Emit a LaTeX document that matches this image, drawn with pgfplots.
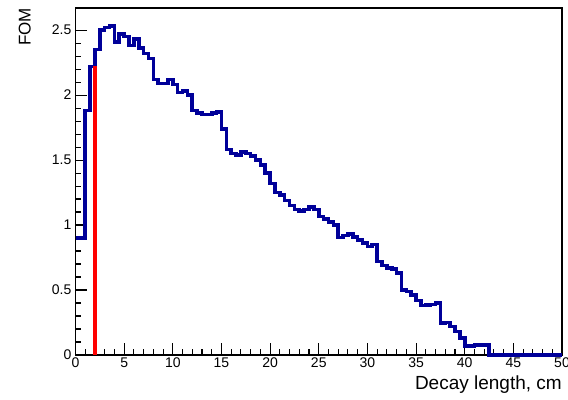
\documentclass[border=0pt]{standalone}
\usepackage{fontspec}
\setmainfont{Liberation Sans}
\usepackage{pgfplots}
\usepackage{pgfplotstable}
\pgfplotsset{compat=1.18}
\definecolor{rootblue}{RGB}{0,0,153}
\pgfplotstableread{
x y
0.0 0.90
0.5 0.90
1.0 1.88
1.5 2.22
2.0 2.35
2.5 2.50
3.0 2.52
3.5 2.53
4.0 2.41
4.5 2.47
5.0 2.45
5.5 2.38
6.0 2.43
6.5 2.36
7.0 2.32
7.5 2.28
8.0 2.12
8.5 2.09
9.0 2.09
9.5 2.12
10.0 2.08
10.5 2.02
11.0 2.03
11.5 2.00
12.0 1.88
12.5 1.86
13.0 1.85
13.5 1.85
14.0 1.86
14.5 1.87
15.0 1.74
15.5 1.58
16.0 1.55
16.5 1.54
17.0 1.56
17.5 1.55
18.0 1.53
18.5 1.50
19.0 1.46
19.5 1.40
20.0 1.32
20.5 1.25
21.0 1.23
21.5 1.19
22.0 1.15
22.5 1.12
23.0 1.11
23.5 1.12
24.0 1.14
24.5 1.12
25.0 1.065
25.5 1.045
26.0 1.025
26.5 1.00
27.0 0.905
27.5 0.92
28.0 0.93
28.5 0.91
29.0 0.885
29.5 0.86
30.0 0.835
30.5 0.85
31.0 0.72
31.5 0.69
32.0 0.67
32.5 0.66
33.0 0.63
33.5 0.50
34.0 0.49
34.5 0.46
35.0 0.42
35.5 0.38
36.0 0.385
36.5 0.39
37.0 0.40
37.5 0.245
38.0 0.25
38.5 0.22
39.0 0.18
39.5 0.13
40.0 0.07
40.5 0.07
41.0 0.075
41.5 0.075
42.0 0.075
42.5 0
50.0 0
}\histdata
\begin{document}
\begin{tikzpicture}
\begin{axis}[
  scale only axis,
  width=486.5pt, height=347pt,
  xmin=0, xmax=50, ymin=0, ymax=2.67,
  xtick={0,5,...,50},
  ytick={0,0.5,1,1.5,2,2.5},
  minor x tick num=4,
  minor y tick num=4,
  tick align=inside,
  tick pos=left,
  major tick length=12pt,
  minor tick length=6pt,
  axis line style={line width=1.2pt},
  every tick/.style={black, line width=1.1pt},
  clip=false,
  /pgf/number format/assume math mode=true,
  tick label style={font=\fontsize{14}{16}\selectfont},
  xticklabel style={inner sep=1pt, yshift=-2pt},
  yticklabel style={inner sep=1pt, xshift=-3pt},
  xlabel={Decay length, cm},
  ylabel={FOM},
  xlabel style={at={(rel axis cs:1,-0.0605)}, anchor=north east, inner sep=0pt, font=\fontsize{19}{22}\selectfont},
  ylabel style={at={(rel axis cs:-0.0915,1)}, anchor=south east, inner sep=0pt, font=\fontsize{17}{20}\selectfont},
]
\addplot[const plot, rootblue, line width=3.6pt, line join=miter] table[x=x, y=y] {\histdata};
\addplot[red, line width=3.4pt] coordinates {(2,0) (2,2.22)};
\end{axis}
\pgfresetboundingbox
\path[use as bounding box] ([xshift=-75.5pt,yshift=-44pt]current axis.south west) rectangle ([xshift=6pt,yshift=8pt]current axis.north east);
\end{tikzpicture}
\end{document}
